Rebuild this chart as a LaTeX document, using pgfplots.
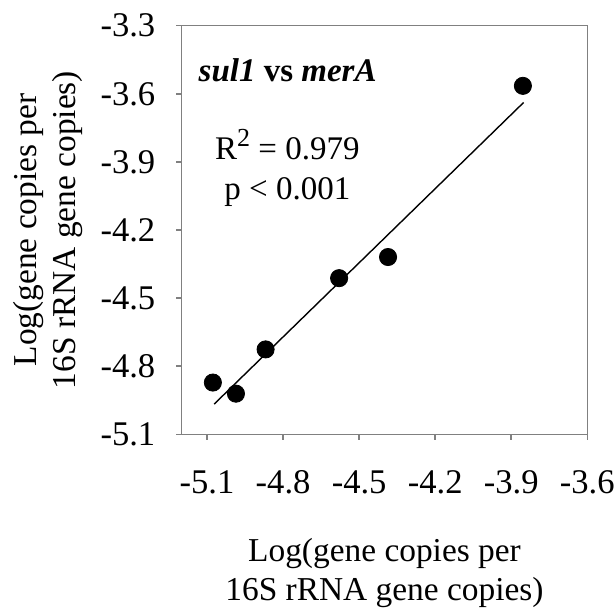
\documentclass[border=0pt]{standalone}
\usepackage{fontspec}
\setmainfont{Liberation Serif}
\usepackage{pgfplots}
\pgfplotsset{compat=1.18}
\definecolor{framegray}{RGB}{128,128,128}
\begin{document}
\begin{tikzpicture}
\path[use as bounding box] (-90.85pt,-86.35pt) rectangle (217.15pt,217.15pt);
\begin{axis}[
  scale only axis,
  width=202.8pt, height=204.3pt,
  xmin=-5.2, xmax=-3.6,
  ymin=-5.1, ymax=-3.3,
  xtick={-5.1,-4.8,-4.5,-4.2,-3.9,-3.6},
  ytick={-5.1,-4.8,-4.5,-4.2,-3.9,-3.6,-3.3},
  xticklabels={-5.1,-4.8,-4.5,-4.2,-3.9,-3.6},
  yticklabels={-5.1,-4.8,-4.5,-4.2,-3.9,-3.6,-3.3},
  xtick pos=bottom, ytick pos=left,
  tick align=outside,
  major tick length=2.8pt,
  axis line style={framegray, line width=0.75pt},
  every tick/.style={framegray, line width=0.75pt},
  /pgf/number format/assume math mode=true,
  ticklabel style={font=\fontsize{17.3}{20}\selectfont, inner sep=0pt},
  xticklabel style={anchor=north, yshift=-15.2pt},
  yticklabel style={anchor=east, xshift=-10.2pt},
  xlabel={Log(gene copies per\\16S rRNA gene copies)},
  ylabel={Log(gene copies per\\16S rRNA gene copies)},
  label style={font=\fontsize{16.7}{19.5}\selectfont, align=center, inner sep=0pt},
  xlabel style={at={(axis description cs:0.5,0)}, anchor=north, yshift=-52pt},
  ylabel style={at={([xshift=-84.5pt]axis description cs:0,0.5)}, anchor=north, rotate=0},
  clip=false,
]
\addplot[only marks, mark=*, mark size=4.3pt, mark options={fill=black, draw=black}]
  coordinates {
    (-5.077,-4.872)
    (-4.986,-4.921)
    (-4.869,-4.726)
    (-4.579,-4.412)
    (-4.386,-4.319)
    (-3.854,-3.565)
  };
\addplot[black, line width=0.7pt]
  coordinates {(-5.072,-4.967) (-3.851,-3.638)};
\node[anchor=base west, inner sep=0pt, font=\fontsize{16.5}{19.5}\selectfont\bfseries]
  at (axis cs:-5.1346,-3.546) {\textit{sul1} vs \textit{merA}};
\node[anchor=base, inner sep=0pt, font=\fontsize{16.5}{19.5}\selectfont]
  at (axis cs:-4.783,-3.890) {R\raisebox{6.8pt}{\fontsize{13}{14}\selectfont 2} = 0.979};
\node[anchor=base, inner sep=0pt, font=\fontsize{16.5}{19.5}\selectfont]
  at (axis cs:-4.783,-4.0655) {p < 0.001};
\end{axis}
\end{tikzpicture}
\end{document}
